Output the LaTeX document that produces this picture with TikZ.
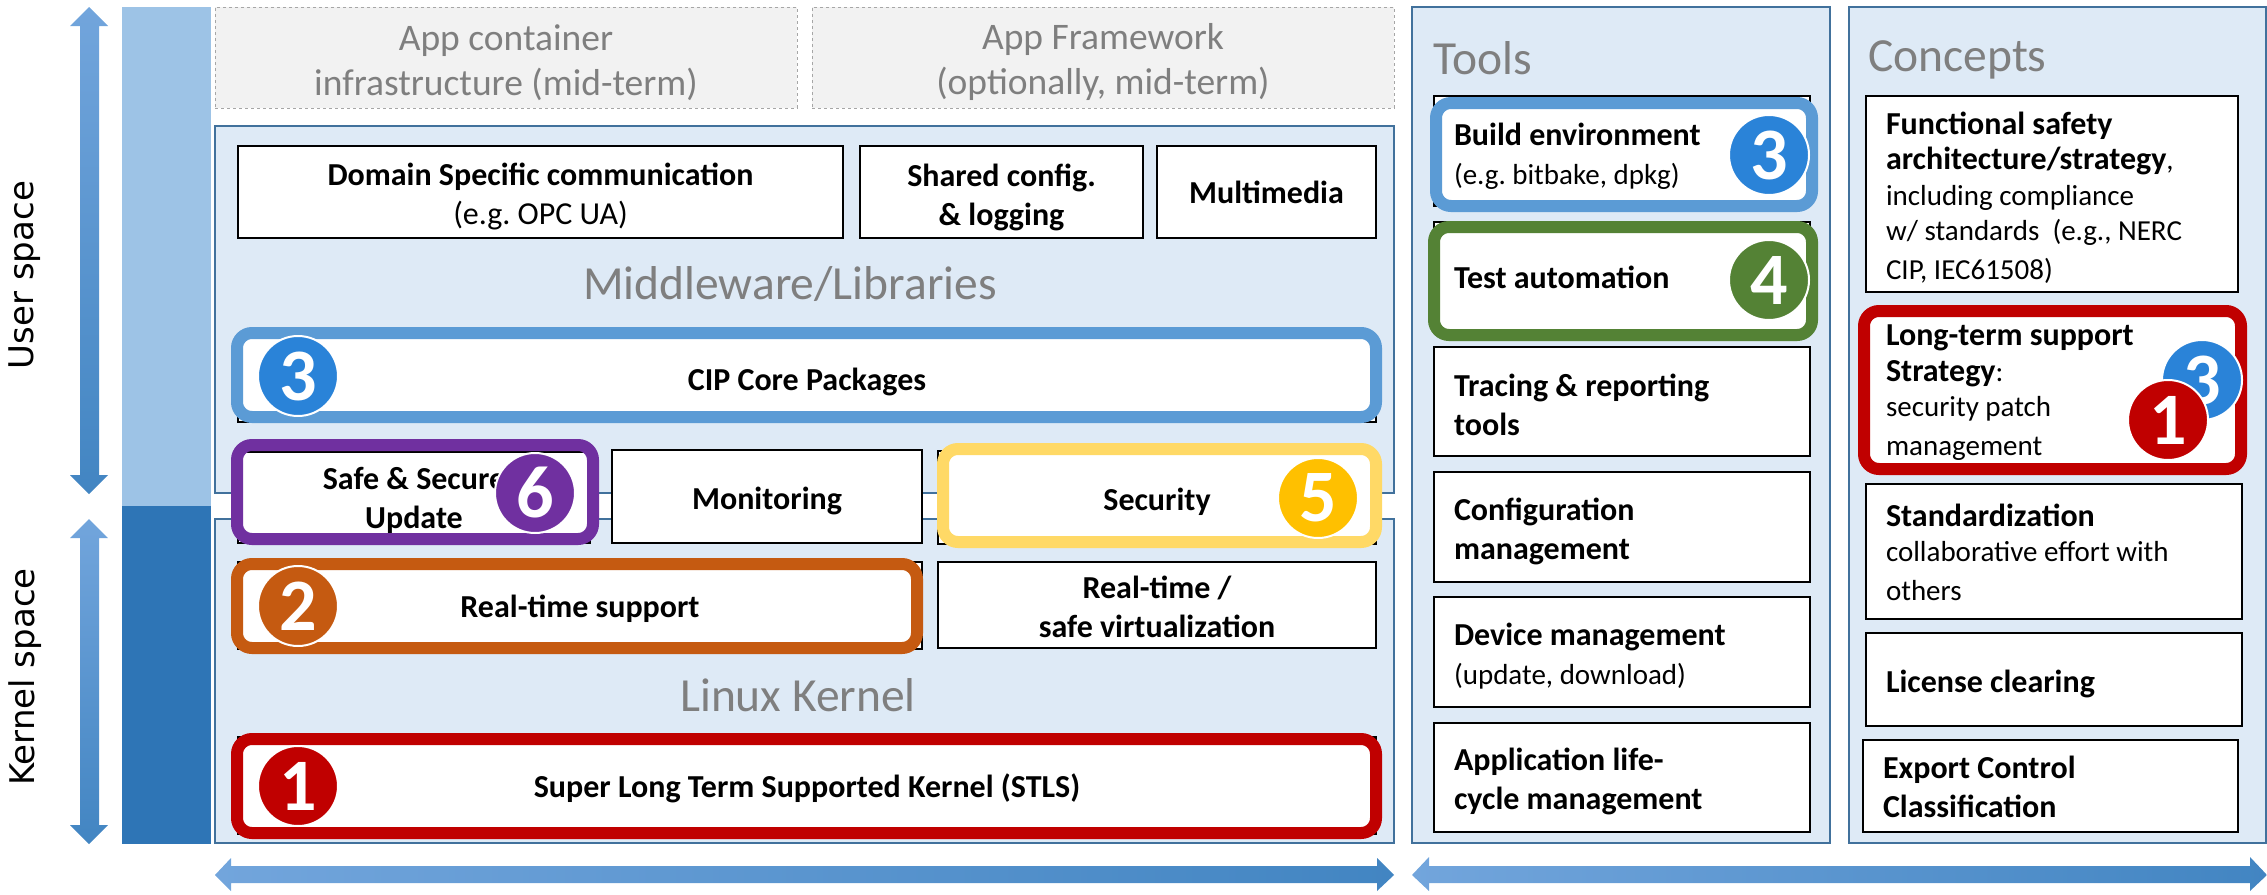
\documentclass[tikz,border=0pt]{standalone}
\usepackage{fontspec}
\setmainfont{Carlito}
\newfontfamily\labfont{DejaVu Sans}
\definecolor{panelfill}{HTML}{DEEAF6}
\definecolor{panelline}{HTML}{41719C}
\definecolor{grayfill}{HTML}{F2F2F2}
\definecolor{grayline}{HTML}{A6A6A6}
\definecolor{graytext}{HTML}{7F7F7F}
\definecolor{barlight}{HTML}{9DC3E6}
\definecolor{bardark}{HTML}{2E75B6}
\definecolor{cblue}{HTML}{5B9BD5}
\definecolor{cbadge}{HTML}{2A83D8}
\definecolor{cred}{HTML}{C00000}
\definecolor{corange}{HTML}{C55A11}
\definecolor{cgreen}{HTML}{548235}
\definecolor{cpurple}{HTML}{7030A0}
\definecolor{cyellow}{HTML}{FFD966}
\definecolor{cgold}{HTML}{FFC000}
\definecolor{arrowa}{HTML}{72A5DC}
\definecolor{arrowb}{HTML}{5597D8}
\definecolor{arrowc}{HTML}{4285C2}
\frenchspacing
\newcommand{\bt}{\fontsize{32}{39}\selectfont\bfseries\frenchspacing}
\newcommand{\rg}{\fontsize{29}{35.5}\selectfont\mdseries\frenchspacing}
\newcommand{\pbox}[7]{%
  \pgfmathsetmacro{\mycx}{(#3+#5)/2}\pgfmathsetmacro{\mycy}{(#4+#6)/2}%
  \pgfmathsetmacro{\mywd}{#5-#3}\pgfmathsetmacro{\myht}{#6-#4}%
  \node[#2,minimum width=\mywd pt,minimum height=\myht pt] (#1) at (\mycx,\mycy) {#7};}
% white box with centred text: name x1 y1 x2 y2 shift text
\newcommand{\wbox}[7]{%
  \pbox{#1}{whitebox}{#2}{#3}{#4}{#5}{}%
  \node[boxtext,yshift=-#6pt,align=center] (#1t) at (#1.center) {#7};}
% white box with left-set text
\newcommand{\lbox}[7]{%
  \pbox{#1}{whitebox}{#2}{#3}{#4}{#5}{}%
  \pgfmathsetmacro{\mytw}{#4-#2-40}%
  \node[boxtext,yshift=-#6pt,text width=\mytw pt,align=flush left] (#1t) at (#1.center) {#7};}
\newcommand{\badge}[5]{\node[badgecirc,fill=#4] (#1) at (#2,#3) {#5};}
\tikzset{
  whitebox/.style={draw=black,line width=2pt,fill=white,inner sep=0pt,outer sep=0pt},
  boxtext/.style={inner sep=0pt,outer sep=0pt,font=\bt},
  panel/.style={draw=panelline,line width=1.5pt,fill=panelfill,inner sep=0pt,outer sep=0pt},
  graybox/.style={draw=grayline,dashed,line width=1pt,fill=grayfill,inner sep=0pt,outer sep=0pt},
  graytxt/.style={inner sep=0pt,outer sep=0pt,align=center,text=graytext,yshift=-5pt,font=\fontsize{37.5}{45}\selectfont},
  title/.style={text=graytext,inner sep=0pt,font=\fontsize{47.5}{52}\selectfont},
  outline/.style={draw=#1,line width=12pt,rounded corners=15pt,inner sep=0pt,outer sep=0pt},
  badgecirc/.style={circle,draw=white,line width=2pt,minimum size=80pt,inner sep=0pt,outer sep=0pt,text=white,font=\fontsize{74}{74}\selectfont\bfseries},
  vlabel/.style={rotate=90,inner sep=0pt,font=\labfont\fontsize{34}{40}\selectfont},
  bar/.style={inner sep=0pt,outer sep=0pt,fill=#1}
}
\begin{document}
\begin{tikzpicture}[x=1pt,y=-1pt]
\useasboundingbox (0,0) rectangle (2267,894);
% side arrows
\shade[top color=arrowa,middle color=arrowb,bottom color=arrowc]
  (89,7) -- (108,26) -- (99,26) -- (99,475) -- (108,475) -- (89,494) -- (70,475) -- (80,475) -- (80,26) -- (70,26) -- cycle;
\shade[top color=arrowa,middle color=arrowb,bottom color=arrowc]
  (89,519) -- (108,538) -- (99,538) -- (99,825) -- (108,825) -- (89,844) -- (70,825) -- (80,825) -- (80,538) -- (70,538) -- cycle;
\node[vlabel] (userlab) at (25,275) {User space};
\node[vlabel] (kernlab) at (25,677) {Kernel space};
% bars
\pbox{ubar}{bar=barlight}{122}{7}{211}{506}{}
\pbox{kbar}{bar=bardark}{122}{506}{211}{844}{}
% gray boxes
\pbox{appc}{graybox}{215}{7}{797}{108}{}
\pbox{appf}{graybox}{812}{7}{1394}{108}{}
\node[graytxt] (appct) at (appc.center) {App container\\infrastructure (mid-term)};
\node[graytxt] (appft) at (appf.center) {App Framework\\(optionally, mid-term)};
% panels
\pbox{mw}{panel}{215}{126}{1394}{493}{}
\pbox{lk}{panel}{215}{519}{1394}{843}{}
\pbox{tools}{panel}{1412}{7}{1830}{843}{}
\pbox{concepts}{panel}{1849}{7}{2266}{843}{}
\node[title] (mwt) at (790,284) {Middleware/Libraries};
\node[title] (lkt) at (798,695) {Linux Kernel};
\node[title,anchor=west] (toolst) at (1433,58) {Tools};
\node[title,anchor=west] (conceptst) at (1868,60) {Concepts};
% middleware boxes
\wbox{dom}{238}{146}{843}{238}{4}{\bt Domain Specific communication\\\fontsize{32}{36}\selectfont\mdseries (e.g. OPC UA)}
\wbox{shared}{860}{146}{1143}{238}{5}{Shared config.\\\&~logging}
\wbox{multi}{1157}{146}{1376}{238}{0}{Multimedia}
\wbox{cip}{238}{335}{1376}{422}{3}{CIP Core Packages}
\wbox{safe}{238}{452}{590}{543}{3}{Safe \& Secure\\Update}
\wbox{mon}{612}{450}{922}{543}{4}{Monitoring}
\wbox{sec}{938}{451}{1376}{544}{4}{Security}
\wbox{rts}{238}{562}{922}{649}{3}{Real-time support}
\wbox{rtv}{938}{562}{1376}{648}{2}{Real-time /\\safe virtualization}
\wbox{stls}{238}{737}{1376}{834}{3}{Super Long Term Supported Kernel (STLS)}
% tools boxes
\lbox{build}{1434}{96}{1810}{206}{5}{\bt Build environment\\\rg (e.g. bitbake, dpkg)}
\lbox{test}{1434}{222}{1810}{333}{0}{\bt Test automation}
\lbox{trace}{1434}{347}{1810}{456}{3}{\bt Tracing \& reporting\\tools}
\lbox{conf}{1434}{472}{1810}{582}{4}{\bt Configuration\\management}
\lbox{dev}{1434}{597}{1810}{707}{4}{\bt Device management\\\rg (update, download)}
\lbox{appl}{1434}{723}{1810}{832}{4}{\bt Application life-\\cycle management}
% concept boxes
\lbox{func}{1866}{96}{2238}{292}{4}{\bt Functional safety\\architecture/strategy\rg,\\including compliance\\w/ standards~ (e.g., NERC\\CIP, IEC61508)}
\lbox{lts}{1866}{311}{2238}{469}{3}{\bt Long-term support\\Strategy\rg:\\security patch\\management}
\lbox{std}{1866}{484}{2242}{619}{1}{\bt Standardization\\\rg collaborative effort with\\others}
\lbox{lic}{1866}{633}{2242}{726}{4}{\bt License clearing}
\lbox{exp}{1863}{740}{2238}{832}{1}{\bt Export Control\\Classification}
% outlines
\pbox{o3a}{outline=cblue}{237}{333}{1376}{417}{}
\pbox{o6}{outline=cpurple}{237}{445}{593}{539}{}
\pbox{o5}{outline=cyellow}{943}{449}{1376}{542}{}
\pbox{o2}{outline=corange}{237}{564}{917}{648}{}
\pbox{o1}{outline=cred}{237}{739}{1376}{833}{}
\pbox{o3b}{outline=cblue}{1436}{103}{1812}{206}{}
\pbox{o4}{outline=cgreen}{1434}{227}{1812}{335}{}
\pbox{o1b}{outline=cred}{1864}{311}{2241}{469}{}
% badges
\badge{b3a}{298}{376}{cbadge}{3}
\badge{b6}{535}{493}{cpurple}{6}
\badge{b5}{1318}{498}{cgold}{5}
\badge{b2}{298}{606}{corange}{2}
\badge{b1}{298}{786}{cred}{1}
\badge{b3b}{1769}{155}{cbadge}{3}
\badge{b4}{1769}{280}{cgreen}{4}
\badge{b3c}{2202}{380}{cbadge}{3}
\badge{b1b}{2168}{420}{cred}{1}
% bottom arrows
\shade[left color=arrowa,middle color=arrowb,right color=arrowc]
  (215,875) -- (231,858) -- (231,866) -- (1377,866) -- (1377,858) -- (1394,875) -- (1377,891) -- (1377,883) -- (231,883) -- (231,891) -- cycle;
\shade[left color=arrowa,middle color=arrowb,right color=arrowc]
  (1412,875) -- (1429,857) -- (1429,866) -- (2250,866) -- (2250,857) -- (2267,875) -- (2250,891) -- (2250,883) -- (1429,883) -- (1429,891) -- cycle;
\end{tikzpicture}
\end{document}
